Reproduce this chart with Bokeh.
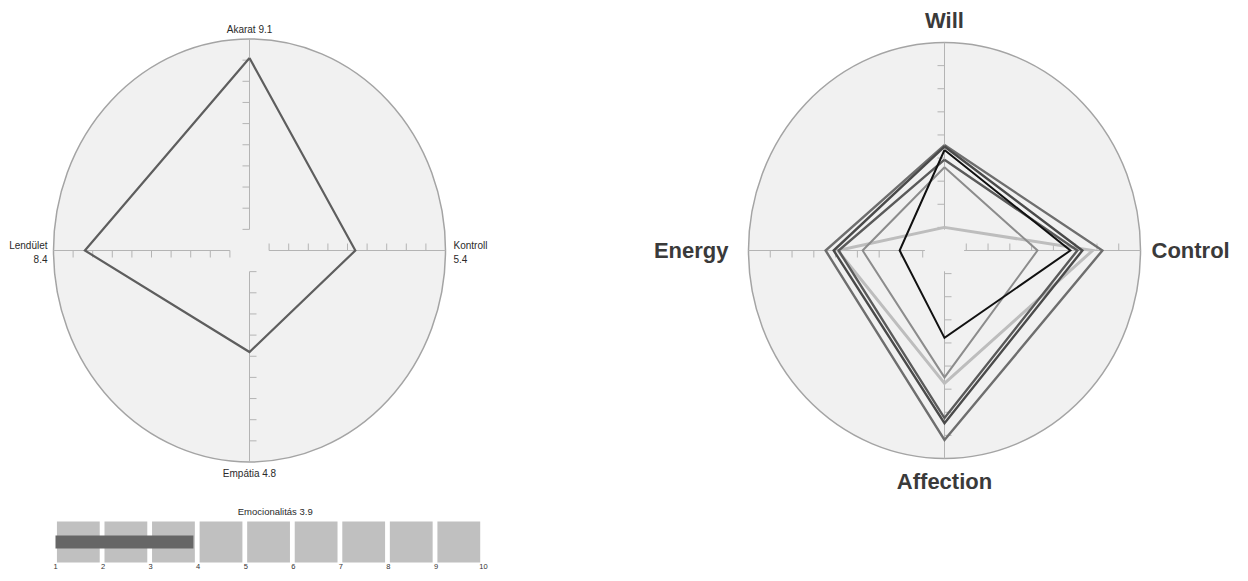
from bokeh.plotting import figure
from bokeh.layouts import row, column
from bokeh.embed import file_html
from bokeh.resources import INLINE
from bokeh.core.properties import value

# ---------------- data ----------------
left_axes = ["Akarat", "Kontroll", "Empátia", "Lendület"]   # top, right, bottom, left
left_values = [9.1, 5.4, 4.8, 8.4]
left_max = 10
left_ticks = [1, 2, 3, 4, 5, 6, 7, 8, 9]

right_axes = ["Will", "Control", "Affection", "Energy"]      # top, right, bottom, left
right_max = 9
right_ticks = [1, 2, 3, 4, 5, 6, 7, 8]
series_1 = [4.56, 7.25, 8.2, 5.46]
series_2 = [4.5, 6.33, 7.47, 5.09]
series_3 = [3.93, 6.1, 7.25, 4.86]
series_4 = [3.6, 4.27, 5.49, 3.76]
series_5 = [1.0, 6.8, 5.75, 4.9]
series_6 = [4.35, 5.78, 3.78, 2.06]

bar_label = "Emocionalitás"
bar_value = 3.9
bar_ticks = [1, 2, 3, 4, 5, 6, 7, 8, 9, 10]

FONT = value("Liberation Sans")
DIRS = [(0, 1), (1, 0), (0, -1), (-1, 0)]
PERP = [(-1, 0), (0, 1), (1, 0), (0, -1)]


def radar_fig(width, height, cx, cy, pxx, pxy):
    p = figure(width=width, height=height, output_backend="svg", toolbar_location=None,
               x_range=(-cx / pxx, (width - cx) / pxx),
               y_range=(-(height - cy) / pxy, cy / pxy), min_border=0)
    p.axis.visible = False
    p.grid.visible = False
    p.outline_line_color = None
    p.background_fill_color = "white"
    return p


def draw_frame(p, rmax, ticks, pxx, pxy, r0):
    p.ellipse(x=[0], y=[0], width=[2 * rmax], height=[2 * rmax],
              fill_color="#f1f1f1", line_color="#a4a4a4", line_width=1.5)
    x0, y0, x1, y1 = [], [], [], []
    for (dx, dy), (px, py) in zip(DIRS, PERP):
        x0.append(dx * r0); y0.append(dy * r0)
        x1.append(dx * rmax); y1.append(dy * rmax)
        for t in ticks:
            x0.append(dx * t); y0.append(dy * t)
            x1.append(dx * t + px * 7 / pxx); y1.append(dy * t + py * 7 / pxy)
    p.segment(x0=x0, y0=y0, x1=x1, y1=y1, line_color="#b4b4b4", line_width=1)


def poly(vals):
    xs = [d[0] * v for d, v in zip(DIRS, vals)]
    ys = [d[1] * v for d, v in zip(DIRS, vals)]
    return xs + xs[:1], ys + ys[:1]


# ---------------- left radar ----------------
LPXX, LPXY = 19.6, 21.15
left = radar_fig(560, 495, 249, 250, LPXX, LPXY)
draw_frame(left, left_max, left_ticks, LPXX, LPXY, 1)
xs, ys = poly(left_values)
left.line(xs, ys, line_color="#5e5e5e", line_width=2.2, line_join="miter")

lab = [f"{n} {v}" for n, v in zip(left_axes, left_values)]
common = dict(text_font=FONT, text_font_size="10px", text_color="#2a2a2a")
left.text(x=[0], y=[left_max], text=[lab[0]], y_offset=-10,
          text_align="center", text_baseline="middle", **common)
left.text(x=[0], y=[-left_max], text=[lab[2]], y_offset=11,
          text_align="center", text_baseline="middle", **common)
left.text(x=[left_max], y=[0], text=[f"{left_axes[1]}\n{left_values[1]}"], x_offset=8,
          y_offset=2, text_align="left", text_baseline="middle", text_line_height=1.25, **common)
left.text(x=[-left_max], y=[0], text=[f"{left_axes[3]}\n{left_values[3]}"], x_offset=-6,
          y_offset=2, text_align="right", text_baseline="middle", text_line_height=1.25, **common)

# ---------------- bar ----------------
BPX = 47.56
x0b = 1 - 55 / BPX
bar = figure(width=560, height=78, output_backend="svg", toolbar_location=None,
             x_range=(x0b, x0b + 560 / BPX), y_range=(0, 78), min_border=0)
bar.axis.visible = False
bar.grid.visible = False
bar.outline_line_color = None
cells = bar_ticks[:-1]
bar.quad(left=[c + 0.03 for c in cells], right=[c + 0.93 for c in cells],
         bottom=11, top=52, fill_color="#c0c0c0", line_color=None)
bar.quad(left=[bar_ticks[0]], right=[bar_value], bottom=25, top=38,
         fill_color="#666666", line_color=None)
bar.text(x=[5.62], y=[62], text=[f"{bar_label} {bar_value}"], text_font=FONT,
         text_font_size="9.5px", text_color="#2a2a2a", text_align="center", text_baseline="middle")
bar.text(x=bar_ticks, y=[9.5] * len(bar_ticks), text=[str(t) for t in bar_ticks], text_font=FONT,
         text_font_size="7.5px", text_color="#333333", text_align="center", text_baseline="top")

# ---------------- right radar ----------------
RPXX, RPXY = 21.78, 23.11
right = radar_fig(672, 573, 384, 250, RPXX, RPXY)
draw_frame(right, right_max, right_ticks, RPXX, RPXY, 0.9)
styles = [
    (series_5, "#bdbdbd", 3.0),
    (series_4, "#8c8c8c", 2.0),
    (series_1, "#6e6e6e", 2.4),
    (series_3, "#5a5a5a", 2.4),
    (series_2, "#4a4a4a", 2.4),
    (series_6, "#111111", 2.0),
]
for vals, col, w in styles:
    xs, ys = poly(vals)
    right.line(xs, ys, line_color=col, line_width=w, line_join="miter")

rc = dict(text_font=FONT, text_font_size="22px", text_font_style="bold", text_color="#3a3a3a")
right.text(x=[0], y=[right_max], text=[right_axes[0]], y_offset=-22,
           text_align="center", text_baseline="middle", **rc)
right.text(x=[0], y=[-right_max], text=[right_axes[2]], y_offset=23,
           text_align="center", text_baseline="middle", **rc)
right.text(x=[right_max], y=[0], text=[right_axes[1]], x_offset=11,
           text_align="left", text_baseline="middle", **rc)
right.text(x=[-right_max], y=[0], text=[right_axes[3]], x_offset=-20,
           text_align="right", text_baseline="middle", **rc)

layout = row(column(left, bar, spacing=0), right, spacing=0)
open("out.html", "w").write(file_html(layout, INLINE))
